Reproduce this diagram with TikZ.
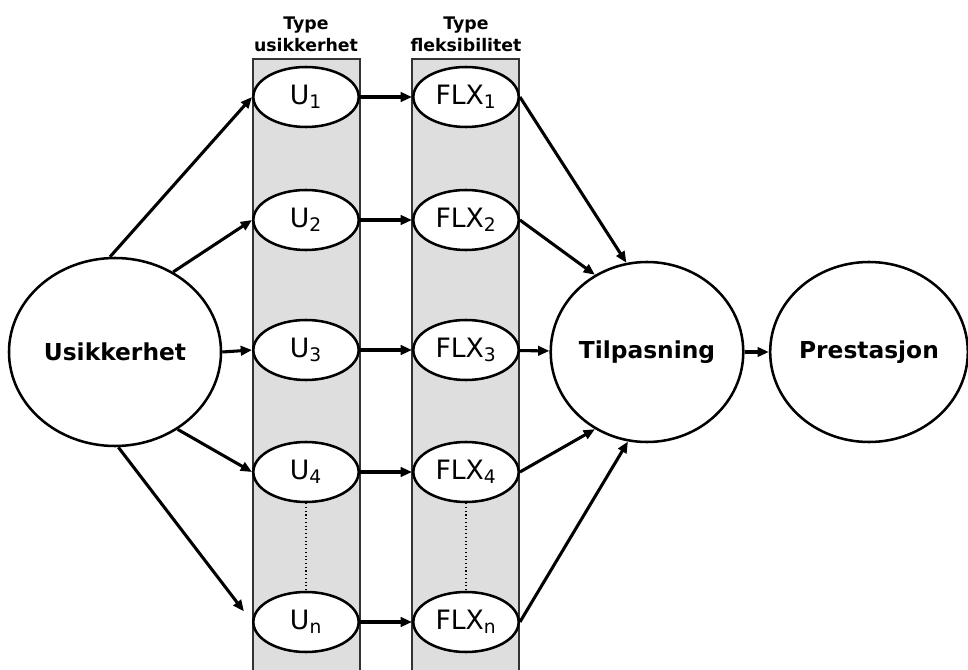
\documentclass[tikz,border=0pt]{standalone}
\usepackage{fontspec}
\setmainfont{DejaVu Sans}
\usetikzlibrary{arrows.meta,shapes.geometric}
\tikzset{
  typebox/.style={draw=black!80,line width=0.9pt,fill=black!13},
  smallell/.style={ellipse,draw,fill=white,line width=1.9pt,minimum width=79pt,
    minimum height=45pt,inner sep=0pt,font=\fontsize{20}{24}\selectfont},
  bigell/.style={ellipse,draw,fill=white,line width=1.9pt,inner sep=0pt,
    font=\bfseries\fontsize{17.5}{21}\selectfont},
  arr/.style={-{Triangle[length=8.5pt,width=7pt]},line width=2.3pt},
  head/.style={align=center,font=\bfseries\fontsize{13}{16.5}\selectfont}
}
\begin{document}
\begin{tikzpicture}[x=0.75pt,y=-0.75pt]
        \useasboundingbox (0,0) rectangle (968,670);
        \draw[typebox] (253,670) |- (360,59) -- (360,670);
        \draw[typebox] (412,670) |- (519,59) -- (519,670);
        \node[head] (h1) at (306,34) {Type\\usikkerhet};
        \node[head] (h2) at (466,34) {Type\\fleksibilitet};
        \node[smallell] (u1) at (306,97) {U\textsubscript{1}};
        \node[smallell] (u2) at (306,220) {U\textsubscript{2}};
        \node[smallell] (u3) at (306,350) {U\textsubscript{3}};
        \node[smallell] (u4) at (306,472) {U\textsubscript{4}};
        \node[smallell] (un) at (306,622) {U\textsubscript{n}};
        \node[smallell] (f1) at (466,97) {FLX\textsubscript{1}};
        \node[smallell] (f2) at (466,220) {FLX\textsubscript{2}};
        \node[smallell] (f3) at (466,350) {FLX\textsubscript{3}};
        \node[smallell] (f4) at (466,472) {FLX\textsubscript{4}};
        \node[smallell] (fn) at (466,622) {FLX\textsubscript{n}};
        \node[bigell,minimum width=159pt,minimum height=141pt] (usik) at (115,352) {Usikkerhet};
        \node[bigell,minimum width=143pt,minimum height=135pt] (tilp) at (647,352) {Tilpasning};
        \node[bigell,minimum width=145pt,minimum height=135pt] (prest) at (869,352) {Prestasjon};
        \draw[arr] (usik.93) -- (u1.west);
        \draw[arr] (usik.54) -- (u2.west);
        \draw[arr] (usik.east) -- (u3.west);
        \draw[arr] (usik.-51) -- (u4.west);
        \draw[arr,shorten >=10pt] (usik.-88) -- (un.west);
        \foreach \i in {1,2,3,4,n}
            \draw[arr] (u\i) -- (f\i);
        \draw[arr] (f1.east) -- (tilp.103);
        \draw[arr] (f2.east) -- (tilp.124);
        \draw[arr] (f3) -- (tilp);
        \draw[arr] (f4.east) -- (tilp.-124);
        \draw[arr] (fn.east) -- (tilp.-102);
        \draw[arr] (tilp) -- (prest);
        \draw[dotted,line width=0.8pt] (u4) -- (un) (f4) -- (fn);
    \end{tikzpicture}
\end{document}
